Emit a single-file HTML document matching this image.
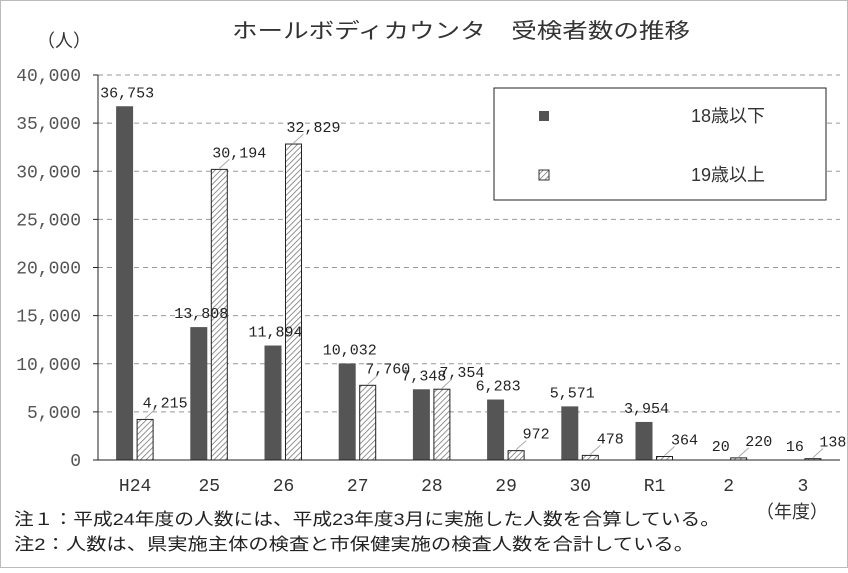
<!DOCTYPE html>
<html><head><meta charset="utf-8"><style>
body{margin:0;background:#fff}
svg text{font-family:"Liberation Mono","Noto Sans CJK JP",monospace}
.jp{font-family:"Liberation Sans","Noto Sans CJK JP",sans-serif}
</style></head><body>
<svg id="chart" width="848" height="568" viewBox="0 0 848 568" xmlns="http://www.w3.org/2000/svg">
<defs><pattern id="hatch" patternUnits="userSpaceOnUse" width="4" height="4" patternTransform="rotate(45)"><rect width="4" height="4" fill="#fff"/><line x1="0" y1="0" x2="0" y2="4" stroke="#777" stroke-width="1.6"/></pattern></defs>
<rect x="0.5" y="0.5" width="847" height="567" fill="#fff" stroke="#bbb"/>
<text class="jp" x="232" y="38" font-size="21" textLength="458" lengthAdjust="spacingAndGlyphs" fill="#333">ホールボディカウンタ　受検者数の推移</text>
<text class="jp" x="64" y="47" font-size="18" text-anchor="middle" fill="#333">（人）</text>
<g id="grid"></g><g id="bars"></g><g id="labels"></g>
<line x1="98" y1="75" x2="98" y2="460" stroke="#222"/>
<line x1="98" y1="460" x2="840" y2="460" stroke="#222"/>
<g>
<rect x="494" y="88" width="332" height="112" fill="#fff" stroke="#222"/>
<rect x="539" y="111" width="10" height="10" fill="#555"/>
<text class="jp" x="765" y="122" font-size="18" text-anchor="end" fill="#333">18歳以下</text>
<rect x="539" y="170" width="10" height="10" fill="url(#hatch)" stroke="#333"/>
<text class="jp" x="765" y="181" font-size="18" text-anchor="end" fill="#333">19歳以上</text>
</g>
<text class="jp" x="792" y="518" font-size="18" text-anchor="middle" fill="#333">（年度）</text>
<text class="jp" x="14" y="525" font-size="17" textLength="706" lengthAdjust="spacingAndGlyphs" fill="#222">注１：平成24年度の人数には、平成23年度3月に実施した人数を合算している。</text>
<text class="jp" x="14" y="550" font-size="17" textLength="680" lengthAdjust="spacingAndGlyphs" fill="#222">注2：人数は、県実施主体の検査と市保健実施の検査人数を合計している。</text>
</svg>
<script>
const categories=["H24","25","26","27","28","29","30","R1","2","3"];
const under18=[36753,13808,11894,10032,7348,6283,5571,3954,20,16];
const over19=[4215,30194,32829,7760,7354,972,478,364,220,138];
const yTicks=[0,5000,10000,15000,20000,25000,30000,35000,40000];
const NS="http://www.w3.org/2000/svg";
const x0=98,x1=840,yTop=75,yBot=460,yMax=40000;
const band=(x1-x0)/categories.length;
const y=v=>yBot-(v/yMax)*(yBot-yTop);
const bx=i=>x0+band*i;
const fmt=v=>v.toLocaleString("en-US");
function mk(tag,attrs,parent,txt){const e=document.createElementNS(NS,tag);for(const k in attrs)e.setAttribute(k,attrs[k]);if(txt!==undefined)e.textContent=txt;document.getElementById(parent).appendChild(e);return e;}
yTicks.forEach(t=>{
 if(t>0){const g=mk("line",{x1:x0,x2:x1,y1:y(t),y2:y(t),stroke:"#999","stroke-dasharray":"5,4"},"grid");
 
 }
 const tk=mk("line",{x1:x0-5,x2:x0,y1:y(t),y2:y(t),stroke:"#222"},"grid");
 
 
 const l=mk("text",{x:81,y:y(t)+6,"font-size":18,"text-anchor":"end",fill:"#555"},"grid",fmt(t));
 
 
});
categories.forEach((c,i)=>{
 const cx=bx(i)+band/2;
 const a=mk("rect",{x:cx-19,y:y(under18[i]),width:17,height:yBot-y(under18[i]),fill:"#555"},"bars");
 
 
 const b=mk("rect",{x:cx+2,y:y(over19[i]),width:16,height:yBot-y(over19[i]),fill:"url(#hatch)",stroke:"#222"},"bars");
 
 
 const xl=mk("text",{x:cx,y:491,"font-size":18,"text-anchor":"middle",fill:"#333"},"labels",c);
 
 
 const la=mk("text",{x:cx-8,y:y(under18[i])-9,"font-size":15,"text-anchor":"middle",fill:"#222"},"labels",fmt(under18[i]));
 
 
 const lb=mk("text",{x:cx+30,y:y(over19[i])-12,"font-size":15,"text-anchor":"middle",fill:"#222"},"labels",fmt(over19[i]));
 
 
 const ln=mk("line",{x1:cx+10,y1:y(over19[i])-1,x2:cx+20,y2:y(over19[i])-10,stroke:"#aaa"},"labels");
 
 
});
</script>
</body></html>
